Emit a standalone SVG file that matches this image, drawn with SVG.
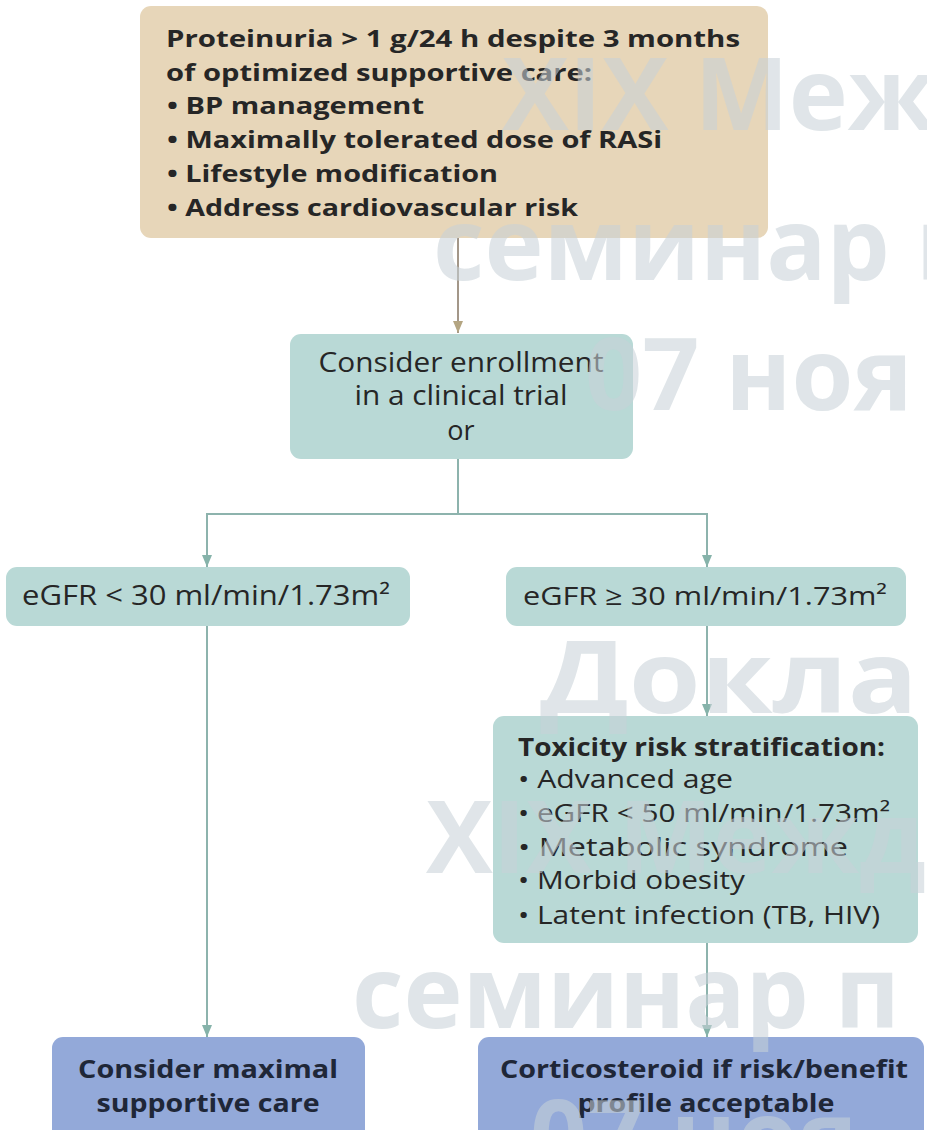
<svg xmlns="http://www.w3.org/2000/svg" width="927" height="1130" viewBox="0 0 927 1130">
<style>
.t{font-family:"Open Sans","Liberation Sans",sans-serif;fill:#262626}
.b{font-weight:700}
.tan{fill:#e7d6b9}
.teal{fill:#b9d9d6}
.blue{fill:#93a9d9}
.conn{fill:none;stroke:#8db3ad;stroke-width:2}
.conn2{fill:none;stroke:#a39789;stroke-width:2}
.wm{font-family:"Open Sans","Liberation Sans",sans-serif;font-weight:700;font-size:100px;fill:#c8d2d8;opacity:0.56}
.nav{fill:#1f2738}
</style>
<defs>
<marker id="ah" viewBox="0 0 12 10" refX="12" refY="5" markerWidth="12" markerHeight="10" markerUnits="userSpaceOnUse" orient="auto">
<path d="M0,0 L12,5 L0,10 Z" fill="#86b3aa"/>
</marker>
<marker id="ah2" viewBox="0 0 12 10" refX="12" refY="5" markerWidth="12" markerHeight="10" markerUnits="userSpaceOnUse" orient="auto">
<path d="M0,0 L12,5 L0,10 Z" fill="#b4a582"/>
</marker>
</defs>
<rect width="927" height="1130" fill="#ffffff"/>

<g id="connectors">
<path class="conn2" d="M458,238 V333" marker-end="url(#ah2)"/>
<path class="conn" d="M458,459 V514 H207 V567" marker-end="url(#ah)"/>
<path class="conn" d="M458,514 H707 V567" marker-end="url(#ah)"/>
<path class="conn" d="M207,626 V1037" marker-end="url(#ah)"/>
<path class="conn" d="M707,626 V716" marker-end="url(#ah)"/>
<path class="conn" d="M707,943 V1037" marker-end="url(#ah)"/>
</g>

<g id="node-proteinuria">
<rect class="tan" x="140" y="6" width="628" height="232" rx="11"/>
<text class="t b" font-size="24" x="166" y="47" textLength="574" lengthAdjust="spacingAndGlyphs">Proteinuria &gt; 1 g/24 h despite 3 months</text>
<text class="t b" font-size="24" x="166" y="81" textLength="426" lengthAdjust="spacingAndGlyphs">of optimized supportive care:</text>
<text class="t b" font-size="24" x="167" y="114" textLength="257" lengthAdjust="spacingAndGlyphs">• BP management</text>
<text class="t b" font-size="24" x="167" y="148" textLength="495" lengthAdjust="spacingAndGlyphs">• Maximally tolerated dose of RASi</text>
<text class="t b" font-size="24" x="167" y="182" textLength="331" lengthAdjust="spacingAndGlyphs">• Lifestyle modification</text>
<text class="t b" font-size="24" x="167" y="216" textLength="411" lengthAdjust="spacingAndGlyphs">• Address cardiovascular risk</text>
</g>

<g id="node-trial">
<rect class="teal" x="290" y="334" width="343" height="125" rx="11"/>
<text class="t" font-size="27" x="461" y="372" text-anchor="middle" textLength="285" lengthAdjust="spacingAndGlyphs">Consider enrollment</text>
<text class="t" font-size="27" x="461" y="405" text-anchor="middle" textLength="213" lengthAdjust="spacingAndGlyphs">in a clinical trial</text>
<text class="t" font-size="27" x="461" y="440" text-anchor="middle">or</text>
</g>

<g id="node-egfr-low">
<rect class="teal" x="6" y="567" width="404" height="59" rx="11"/>
<text class="t" font-size="27" x="206" y="605" text-anchor="middle" textLength="368" lengthAdjust="spacingAndGlyphs">eGFR &lt; 30 ml/min/1.73m²</text>
</g>

<g id="node-egfr-high">
<rect class="teal" x="506" y="567" width="400" height="59" rx="11"/>
<text class="t" font-size="26" x="705" y="605" text-anchor="middle" textLength="364" lengthAdjust="spacingAndGlyphs">eGFR ≥ 30 ml/min/1.73m²</text>
</g>

<g id="node-toxicity">
<rect class="teal" x="493" y="716" width="425" height="227" rx="11"/>
<text class="t b" font-size="25" x="518" y="756" textLength="367" lengthAdjust="spacingAndGlyphs">Toxicity risk stratification:</text>
<text class="t" font-size="25" x="518" y="788" textLength="215" lengthAdjust="spacingAndGlyphs">• Advanced age</text>
<text class="t" font-size="25" x="518" y="822" textLength="372" lengthAdjust="spacingAndGlyphs">• eGFR &lt; 50 ml/min/1.73m²</text>
<text class="t" font-size="25" x="518" y="856" textLength="330" lengthAdjust="spacingAndGlyphs">• Metabolic syndrome</text>
<text class="t" font-size="25" x="518" y="889" textLength="227" lengthAdjust="spacingAndGlyphs">• Morbid obesity</text>
<text class="t" font-size="25" x="518" y="924" textLength="362" lengthAdjust="spacingAndGlyphs">• Latent infection (TB, HIV)</text>
</g>

<g id="node-supportive">
<rect class="blue" x="52" y="1037" width="313" height="110" rx="11"/>
<text class="t b nav" font-size="25" x="208" y="1078" text-anchor="middle" textLength="260" lengthAdjust="spacingAndGlyphs">Consider maximal</text>
<text class="t b nav" font-size="25" x="208" y="1112" text-anchor="middle" textLength="223" lengthAdjust="spacingAndGlyphs">supportive care</text>
</g>

<g id="node-corticosteroid">
<rect class="blue" x="478" y="1037" width="446" height="110" rx="11"/>
<text class="t b nav" font-size="25" x="704" y="1078" text-anchor="middle" textLength="408" lengthAdjust="spacingAndGlyphs">Corticosteroid if risk/benefit</text>
<text class="t b nav" font-size="25" x="706" y="1112" text-anchor="middle" textLength="257" lengthAdjust="spacingAndGlyphs">profile acceptable</text>
</g>

<g id="watermark">
<text class="wm" x="502" y="130">XIX Меж</text>
<text class="wm" x="433" y="280">семинар п</text>
<text class="wm" x="585" y="410">07 ноя</text>
<text class="wm" x="540" y="713" font-size="106" textLength="378" lengthAdjust="spacingAndGlyphs">Докла</text>
<text class="wm" x="426" y="873">XIX Межд</text>
<text class="wm" x="352" y="1028" font-size="104">семинар п</text>
<text class="wm" x="530" y="1172">07 ноя</text>
</g>
</svg>
